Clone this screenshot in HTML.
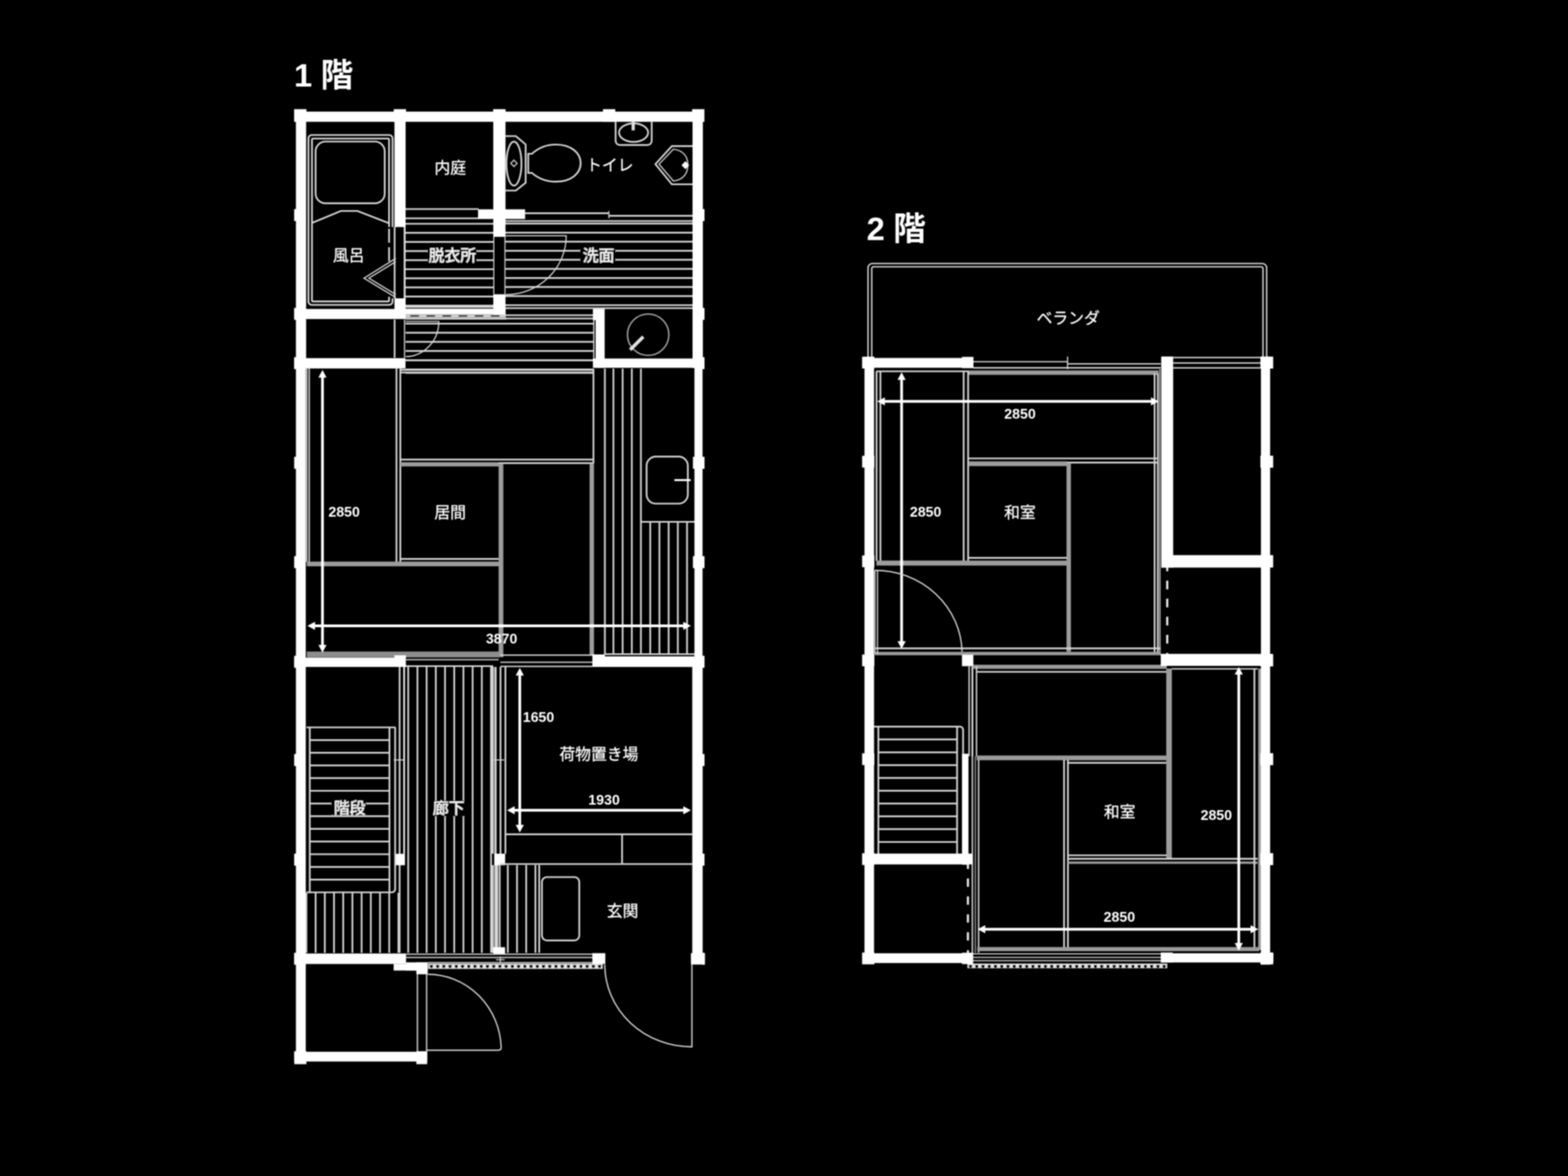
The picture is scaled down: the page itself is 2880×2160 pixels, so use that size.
<!DOCTYPE html>
<html><head><meta charset="utf-8"><title>間取り図</title>
<style>html,body{margin:0;padding:0;background:#000;}body{width:2880px;height:2160px;overflow:hidden;font-family:"Liberation Sans",sans-serif;}svg{display:block}</style>
</head><body>
<svg width="2880" height="2160" viewBox="0 0 2880 2160" fill="none" stroke-linecap="butt" role="img" aria-label="間取り図 1階・2階">
<title>間取り図</title>
<desc>1階: 風呂 内庭 トイレ 脱衣所 洗面 居間 2850 3870 階段 廊下 荷物置き場 1650 1930 玄関 / 2階: ベランダ 和室 2850 2850 和室 2850 2850</desc>
<defs><filter id="soft" x="0" y="0" width="2880" height="2160" filterUnits="userSpaceOnUse"><feGaussianBlur stdDeviation="1.2"/></filter></defs>
<rect width="2880" height="2160" fill="#000"/>
<g filter="url(#soft)">
<g id="f1">
<text y="158.8" font-family="'Liberation Sans','Noto Sans CJK JP',sans-serif" font-size="60" font-weight="bold" fill="#fff" stroke="none"><tspan x="540">1</tspan><tspan x="588.8">階</tspan></text>
<path d="M745 384H879M745 401H879" stroke="#d6d6d6" stroke-width="3.2" fill="none" />
<path d="M745 411H906M745 427.7H906M745 444.4H906M745 461.1H906M745 477.8H906M745 494.5H906M745 511.2H906M745 527.9H906M745 544.6H906M745 561.3H906M745 564H906" stroke="#d6d6d6" stroke-width="3.2" fill="none" />
<path d="M928 406H1273M928 410.7H1273" stroke="#d6d6d6" stroke-width="3.2" fill="none" />
<path d="M928 427.3H1273M928 443.9H1273M928 460.6H1273M928 477.2H1273M928 493.9H1273M928 510.6H1273M928 527.2H1273M928 543.9H1273M928 560.5H1273M928 566H1273" stroke="#d6d6d6" stroke-width="3.2" fill="none" />
<path d="M929 579H1090M929 585H1090" stroke="#d6d6d6" stroke-width="3.2" fill="none" />
<path d="M745 585.3H930" stroke="#d6d6d6" stroke-width="3.2" fill="none" />
<path d="M745 594.5H1090M745 611.2H1090M745 627.9H1090M745 644.6H1090" stroke="#d6d6d6" stroke-width="3.2" fill="none" />
<path d="M745 661.5H1090M745 678.5H1090M745 685H1090" stroke="#d6d6d6" stroke-width="3.2" fill="none" />
<path d="M1090.7 588L1090.7 659" stroke="#d6d6d6" stroke-width="2.4" />
<path d="M1126.7 677V1203M1143.6 677V1203M1160.5 677V1203" stroke="#d6d6d6" stroke-width="3.2" fill="none" />
<path d="M1194.3 958.5V1203M1211.2 958.5V1203M1228.1 958.5V1203M1245 958.5V1203M1261.9 958.5V1203" stroke="#d6d6d6" stroke-width="3.2" fill="none" />
<path d="M1111 677V1203M1177.2 677V1203" stroke="#d6d6d6" stroke-width="3.2" fill="none" />
<path d="M1177 958.5H1276" stroke="#d6d6d6" stroke-width="3.2" fill="none" />
<path d="M1111 1201.5H1276" stroke="#d6d6d6" stroke-width="3.2" fill="none" />
<path d="M749.8 1224V1750M766.7 1224V1750M783.6 1224V1750M800.5 1224V1750M817.4 1224V1750M834.3 1224V1750M851.2 1224V1750M868.1 1224V1750M885 1224V1750M901.9 1224V1750" stroke="#d6d6d6" stroke-width="3.2" fill="none" />
<path d="M745 1223.5H906" stroke="#d6d6d6" stroke-width="3.2" fill="none" />
<path d="M734 1225V1750" stroke="#d6d6d6" stroke-width="3.2" fill="none" />
<path d="M742.3 1225V1568" stroke="#eee" stroke-width="3.2" fill="none" />
<rect x="904.5" y="1225" width="6" height="343" fill="#777"/>
<path d="M904.5 1225V1568M910.5 1225V1568" stroke="#d6d6d6" stroke-width="3.2" fill="none" />
<path d="M919.3 1225V1568M928.3 1225V1568" stroke="#d6d6d6" stroke-width="3.2" fill="none" />
<path d="M562.8 1640V1750M579.7 1640V1750M596.6 1640V1750M613.5 1640V1750M630.4 1640V1750M647.3 1640V1750M664.2 1640V1750M681.1 1640V1750M698 1640V1750M714.9 1640V1750M731.8 1640V1750" stroke="#d6d6d6" stroke-width="3.2" fill="none" />
<path d="M932.7 1589V1750M949.6 1589V1750M966.5 1589V1750M983.4 1589V1750M990.4 1589V1750" stroke="#d6d6d6" stroke-width="3.2" fill="none" />
<path d="M917.8 1589V1740" stroke="#d6d6d6" stroke-width="3.2" fill="none" />
<rect x="907.8" y="1589" width="7.2" height="151" fill="#d8d8d8"/>
<rect x="904.5" y="1589" width="6" height="161" fill="#777"/>
<path d="M904.5 1589V1750M910.5 1589V1750" stroke="#d6d6d6" stroke-width="3.2" fill="none" />
<path d="M745 662.5H1090" stroke="#d6d6d6" stroke-width="2.2" fill="none" />
<path d="M735 679.3H1090M735 684.2H1090" stroke="#d6d6d6" stroke-width="3.2" fill="none" />
<path d="M563.3 677V1032M567.9 677V1032" stroke="#d6d6d6" stroke-width="2.6" fill="none" />
<path d="M728.2 677V1032.5M735.3 677V1032.5" stroke="#d6d6d6" stroke-width="3.2" fill="none" />
<path d="M735 844.2H1089.5" stroke="#d6d6d6" stroke-width="3.2" fill="none" />
<path d="M916 850.7H1089" stroke="#d6d6d6" stroke-width="3.2" fill="none" />
<rect x="735" y="849" width="181" height="7.7" fill="#9c9c9c"/>
<path d="M735 1026.6H917" stroke="#d6d6d6" stroke-width="3.2" fill="none" />
<rect x="563.5" y="1031.5" width="353.5" height="8.6" fill="#9c9c9c"/>
<rect x="915.8" y="851" width="8.7" height="356" fill="#9c9c9c"/>
<path d="M1090 677V851" stroke="#d6d6d6" stroke-width="3.2" fill="none" />
<rect x="1082.9" y="851" width="8.1" height="352" fill="#9c9c9c"/>
<rect x="563.5" y="1196.7" width="353.5" height="10.8" fill="#8e8e8e"/>
<rect x="543.5" y="201" width="18.8" height="475" fill="#fff"/>
<rect x="543.5" y="676" width="18.1" height="1278" fill="#fff"/>
<rect x="541" y="205" width="752" height="18.7" fill="#fff"/>
<rect x="1272" y="201" width="19" height="475" fill="#fff"/>
<rect x="1275.5" y="676" width="14.9" height="530" fill="#fff"/>
<rect x="1271.5" y="1206" width="19.1" height="565" fill="#fff"/>
<rect x="540.2" y="200.5" width="22.6" height="23.2" fill="#fff"/>
<rect x="723.2" y="200.5" width="22.6" height="23.2" fill="#fff"/>
<rect x="905.7" y="200.5" width="22.6" height="23.2" fill="#fff"/>
<rect x="1107.5" y="200.5" width="22.6" height="23.2" fill="#fff"/>
<rect x="1271.2" y="200.5" width="22.6" height="23.2" fill="#fff"/>
<rect x="724.5" y="201" width="20.5" height="216" fill="#fff"/>
<rect x="724.5" y="548" width="20.5" height="38" fill="#fff"/>
<rect x="906" y="201" width="22.5" height="234" fill="#fff"/>
<rect x="906" y="540.5" width="22.5" height="38" fill="#fff"/>
<rect x="878" y="384.5" width="86.5" height="17.8" fill="#fff"/>
<rect x="540.5" y="567.5" width="204.5" height="18.5" fill="#fff"/>
<rect x="745" y="567" width="183.5" height="10.5" fill="#fff"/>
<rect x="745" y="577.5" width="184" height="6.1" fill="#cfcfcf"/>
<rect x="540.5" y="657.8" width="204.3" height="19" fill="#fff"/>
<rect x="1089" y="658.5" width="205" height="17.1" fill="#fff"/>
<rect x="1094" y="567.3" width="16.6" height="108.3" fill="#fff"/>
<rect x="1089" y="567.3" width="6" height="20.7" fill="#fff"/>
<rect x="540.5" y="1208" width="204.5" height="17" fill="#fff"/>
<rect x="724.4" y="1203.7" width="21.1" height="21.3" fill="#fff"/>
<rect x="1088" y="1205.5" width="206" height="19.5" fill="#fff"/>
<rect x="1088" y="1202" width="23" height="23" fill="#fff"/>
<rect x="540.5" y="1751.3" width="205.3" height="19.3" fill="#fff"/>
<rect x="745.8" y="1767.6" width="39.8" height="15" fill="#fff"/>
<rect x="723" y="1770.6" width="43" height="12" fill="#fff"/>
<rect x="764.7" y="1767.6" width="20.9" height="21.9" fill="#fff"/>
<rect x="1088" y="1750.7" width="23.8" height="19.9" fill="#fff"/>
<rect x="1269" y="1750.7" width="25.8" height="20.9" fill="#fff"/>
<rect x="540.5" y="1931.8" width="244.1" height="17.9" fill="#fff"/>
<rect x="540.5" y="1930.8" width="22.3" height="23.8" fill="#fff"/>
<rect x="764.7" y="1930.8" width="19.9" height="23.8" fill="#fff"/>
<rect x="725.9" y="1568.2" width="17.9" height="21" fill="#fff"/>
<rect x="907.8" y="1568" width="20" height="21.2" fill="#fff"/>
<rect x="905.9" y="1739.8" width="21.8" height="12.2" fill="#fff"/>
<rect x="540.3" y="384" width="3.7" height="22" fill="#fff"/>
<rect x="1290" y="384" width="4" height="22" fill="#fff"/>
<rect x="540.3" y="565.5" width="3.7" height="22" fill="#fff"/>
<rect x="1290" y="565.5" width="4" height="22" fill="#fff"/>
<rect x="540.3" y="656" width="3.7" height="22" fill="#fff"/>
<rect x="1290" y="656" width="4" height="22" fill="#fff"/>
<rect x="540.3" y="839" width="3.7" height="22" fill="#fff"/>
<rect x="1290" y="839" width="4" height="22" fill="#fff"/>
<rect x="540.3" y="1021.5" width="3.7" height="22" fill="#fff"/>
<rect x="1290" y="1021.5" width="4" height="22" fill="#fff"/>
<rect x="540.3" y="1204.5" width="3.7" height="22" fill="#fff"/>
<rect x="1290" y="1204.5" width="4" height="22" fill="#fff"/>
<rect x="540.3" y="1385" width="3.7" height="22" fill="#fff"/>
<rect x="1290" y="1385" width="4" height="22" fill="#fff"/>
<rect x="540.3" y="1568" width="3.7" height="22" fill="#fff"/>
<rect x="1290" y="1568" width="4" height="22" fill="#fff"/>
<rect x="540.3" y="1750" width="3.7" height="22" fill="#fff"/>
<rect x="1290" y="1750" width="4" height="22" fill="#fff"/>
<rect x="1272.7" y="839" width="4.3" height="22" fill="#fff"/>
<rect x="1272.7" y="1021.5" width="4.3" height="22" fill="#fff"/>
<path d="M721 417V254a6 6 0 0 0 -6 -6H572.5a6 6 0 0 0 -6 6V554a6 6 0 0 0 6 6H715a6 6 0 0 0 6 -6V548" stroke="#d6d6d6" stroke-width="3.2" fill="none" />
<path d="M714.6 417V256.5a2 2 0 0 0 -2 -2H575a2 2 0 0 0 -2 2V551.7a2 2 0 0 0 2 2H712.6a2 2 0 0 0 2 -2V545" stroke="#d6d6d6" stroke-width="3.2" fill="none" />
<path d="M714.6 420L714.6 482" stroke="#d6d6d6" stroke-width="3.2" stroke-dasharray="26 8"/>
<rect x="579.7" y="260" width="126.9" height="113.4" rx="18" stroke="#d6d6d6" stroke-width="3.2"/>
<path d="M573 409.5L626 387.5H656.7L714.5 410" stroke="#d6d6d6" stroke-width="3.2" fill="none" />
<path d="M727 474.5L668.5 511L727 546.5M727 480.5L677.5 511L727 541" stroke="#d6d6d6" stroke-width="2.2" fill="none" />
<path d="M724.8 417L724.8 548" stroke="#d6d6d6" stroke-width="3.2" />
<rect x="741.5" y="417" width="3.5" height="131" fill="#e0e0e0"/>
<path d="M907 435V540.5M927.5 435V540.5" stroke="#d6d6d6" stroke-width="2" fill="none" />
<path d="M928.5 250H947.5L965.5 265.4V335.7L947.5 350H928.5" stroke="#d6d6d6" stroke-width="3.2" fill="none" />
<ellipse cx="944" cy="300.5" rx="13.8" ry="40.3" stroke="#d6d6d6" stroke-width="3.2"/>
<path d="M944 294l5.8 6l-5.8 6l-5.8 -6z" stroke="#d6d6d6" stroke-width="2" fill="none" />
<path d="M970.2 282.5H977C989 271.5 1004 265.5 1021 265.5C1048.5 265.5 1066.5 280.5 1066.5 299.6C1066.5 319 1048.5 333.7 1021 333.7C1004 333.7 989 328 977 317.6H970.2Z" stroke="#d6d6d6" stroke-width="3.2" fill="none" />
<path d="M1130.7 223.7V258.4a8 8 0 0 0 8 8H1189a8 8 0 0 0 8 -8V223.7" stroke="#d6d6d6" stroke-width="3.2" fill="none" />
<ellipse cx="1163.7" cy="243.6" rx="26.7" ry="17" stroke="#d6d6d6" stroke-width="3.2"/>
<rect x="1160" y="223.7" width="6" height="15.8" fill="#ddd"/>
<path d="M1272 268.3H1234L1203.8 301.5L1234 338.5H1272" stroke="#d6d6d6" stroke-width="3.2" fill="none" />
<path d="M1237 274L1210.5 301.5L1237 332.5C1256 330 1263 318 1263.5 303C1263 287 1256 277 1237 274Z" stroke="#d6d6d6" stroke-width="2.2" fill="none" />
<path d="M1258.8 296l7 7.4l-7 7.4l-7 -7.4z" fill="#fff"/>
<path d="M964.5 391.7H1118.3" stroke="#d6d6d6" stroke-width="3.2" fill="none" />
<path d="M1118.3 396.4H1272.5" stroke="#d6d6d6" stroke-width="3.2" fill="none" />
<path d="M1118.3 387.5L1118.3 401" stroke="#d6d6d6" stroke-width="2" />
<path d="M929 433H1040A110 108 0 0 1 929 541" stroke="#d6d6d6" stroke-width="2.2" fill="none" />
<path d="M753.5 580.3L930 580.3" stroke="#2a2a2a" stroke-width="3.2" stroke-dasharray="16 13.6"/>
<path d="M745 590.5H806A61 64.5 0 0 1 745 655" stroke="#d6d6d6" stroke-width="2.2" fill="none" />
<path d="M724.8 587L724.8 657" stroke="#d6d6d6" stroke-width="3.2" />
<path d="M743 587L743 657" stroke="#d6d6d6" stroke-width="2.2" />
<circle cx="1190.5" cy="614.8" r="38" stroke="#a8a8a8" stroke-width="2.6"/>
<path d="M1181.5 618.5L1157.4 642.5" stroke="#e4e4e4" stroke-width="6.2" />
<path d="M746 1211.6H916" stroke="#d6d6d6" stroke-width="2.2" fill="none" />
<path d="M919 1203.2H1088M919 1216.4H1088M919 1224H1088" stroke="#d6d6d6" stroke-width="2.4" fill="none" />
<rect x="1187.6" y="838.6" width="75.8" height="86.4" rx="17" stroke="#d6d6d6" stroke-width="3.2"/>
<rect x="1238.7" y="880" width="30" height="3.6" fill="#fff"/>
<rect x="589.8" y="692.5" width="5" height="493" fill="#fff"/>
<path d="M592.3 679.5L584.8 693.5H599.8Z M592.3 1198.5L584.8 1184.5H599.8Z" fill="#fff"/>
<rect x="577.6" y="1147" width="678.4" height="5" fill="#fff"/>
<path d="M564.6 1149.5L578.6 1142V1157Z M1269 1149.5L1255 1142V1157Z" fill="#fff"/>
<text x="603.2" y="949.1" font-family="'Liberation Sans',sans-serif" font-size="26" font-weight="bold" fill="#fff" stroke="none">2850</text>
<text x="892.4" y="1182.2" font-family="'Liberation Sans',sans-serif" font-size="26" font-weight="bold" fill="#fff" stroke="none">3870</text>
<path d="M569 1359.3H715.3M569 1382.6H715.3M569 1405.9H715.3M569 1429.2H715.3M569 1452.5H715.3M569 1475.8H715.3M569 1499.1H715.3M569 1522.4H715.3M569 1545.7H715.3M569 1569H715.3M569 1592.3H715.3M569 1615.6H715.3" stroke="#d6d6d6" stroke-width="3.2" fill="none" />
<path d="M563 1336H726.5M569 1336V1638.9M715.3 1336V1638.9M725.8 1336V1633a6 6 0 0 1 -6 6H563" stroke="#d6d6d6" stroke-width="3.2" fill="none" />
<path d="M723 1395.8H742" stroke="#d6d6d6" stroke-width="2" fill="none" />
<path d="M907 1395.8H926" stroke="#d6d6d6" stroke-width="2" fill="none" />
<rect x="952.2" y="1239.8" width="5" height="276.2" fill="#fff"/>
<path d="M954.7 1226.8L947.2 1240.8H962.2Z M954.7 1529L947.2 1515H962.2Z" fill="#fff"/>
<rect x="944.3" y="1485.7" width="311.7" height="5" fill="#fff"/>
<path d="M931.3 1488.2L945.3 1480.7V1495.7Z M1269 1488.2L1255 1480.7V1495.7Z" fill="#fff"/>
<path d="M928.7 1532.4H1273" stroke="#d6d6d6" stroke-width="3.2" fill="none" />
<path d="M917.8 1587H1273" stroke="#d6d6d6" stroke-width="3.2" fill="none" />
<path d="M1142.6 1532.4L1142.6 1587" stroke="#d6d6d6" stroke-width="3.2" />
<text x="960.2" y="1326.4" font-family="'Liberation Sans',sans-serif" font-size="26" font-weight="bold" fill="#fff" stroke="none">1650</text>
<text x="1080.5" y="1477.6" font-family="'Liberation Sans',sans-serif" font-size="26" font-weight="bold" fill="#fff" stroke="none">1930</text>
<rect x="995.4" y="1611" width="68.6" height="116.3" rx="9" stroke="#d6d6d6" stroke-width="3.2"/>
<path d="M745.8 1752.7H1088M745.8 1758.7H1088" stroke="#d6d6d6" stroke-width="2.2" fill="none" />
<path d="M786 1768H1088" stroke="#d6d6d6" stroke-width="2" fill="none" />
<path d="M911 1762.7H927M919 1757V1768" stroke="#d6d6d6" stroke-width="2" fill="none" />
<rect x="786.6" y="1769.8" width="320.4" height="9.8" fill="#e8e8e8"/>
<path d="M789.3 1772h6v3.2a3 3 0 0 1 -6 0zM800.8 1772h6v3.2a3 3 0 0 1 -6 0zM812.2 1772h6v3.2a3 3 0 0 1 -6 0zM823.6 1772h6v3.2a3 3 0 0 1 -6 0zM835.1 1772h6v3.2a3 3 0 0 1 -6 0zM846.5 1772h6v3.2a3 3 0 0 1 -6 0zM858 1772h6v3.2a3 3 0 0 1 -6 0zM869.4 1772h6v3.2a3 3 0 0 1 -6 0zM880.9 1772h6v3.2a3 3 0 0 1 -6 0zM892.3 1772h6v3.2a3 3 0 0 1 -6 0zM903.8 1772h6v3.2a3 3 0 0 1 -6 0zM915.2 1772h6v3.2a3 3 0 0 1 -6 0zM926.6 1772h6v3.2a3 3 0 0 1 -6 0zM938.1 1772h6v3.2a3 3 0 0 1 -6 0zM949.5 1772h6v3.2a3 3 0 0 1 -6 0zM961 1772h6v3.2a3 3 0 0 1 -6 0zM972.4 1772h6v3.2a3 3 0 0 1 -6 0zM983.9 1772h6v3.2a3 3 0 0 1 -6 0zM995.3 1772h6v3.2a3 3 0 0 1 -6 0zM1006.7 1772h6v3.2a3 3 0 0 1 -6 0zM1018.2 1772h6v3.2a3 3 0 0 1 -6 0zM1029.6 1772h6v3.2a3 3 0 0 1 -6 0zM1041.1 1772h6v3.2a3 3 0 0 1 -6 0zM1052.5 1772h6v3.2a3 3 0 0 1 -6 0zM1064 1772h6v3.2a3 3 0 0 1 -6 0zM1075.4 1772h6v3.2a3 3 0 0 1 -6 0zM1086.8 1772h6v3.2a3 3 0 0 1 -6 0zM1098.3 1772h6v3.2a3 3 0 0 1 -6 0z" fill="#000"/>
<path d="M1270.9 1771.6V1922.8A160 151 0 0 1 1110.8 1771.6" stroke="#d6d6d6" stroke-width="2.4" fill="none" />
<path d="M766.7 1789.5V1931M783.6 1789.5V1931" stroke="#d6d6d6" stroke-width="2.4" fill="none" />
<path d="M785.6 1789.5A135 139 0 0 1 920.5 1924q0 5 -6 5H784.6" stroke="#d6d6d6" stroke-width="2.4" fill="none" />
<text x="798" y="319.2" font-family="'Liberation Sans','Noto Sans CJK JP',sans-serif" font-size="29" fill="#fff" stroke="#fff" stroke-width="0.5">内庭</text>
<text x="1076.5" y="314.2" font-family="'Liberation Sans','Noto Sans CJK JP',sans-serif" font-size="29" fill="#fff" stroke="#fff" stroke-width="0.5">トイレ</text>
<text x="611.5" y="479.7" font-family="'Liberation Sans','Noto Sans CJK JP',sans-serif" font-size="29" fill="#fff" stroke="#fff" stroke-width="0.5">風呂</text>
<rect x="785" y="452.5" width="90.5" height="33.5" fill="#000"/>
<text x="787.5" y="479.7" font-family="'Liberation Sans','Noto Sans CJK JP',sans-serif" font-size="29" fill="#fff" stroke="#fff" stroke-width="0.5">脱衣所</text>
<rect x="1065" y="452.5" width="66" height="33" fill="#000"/>
<text x="1070.4" y="479.7" font-family="'Liberation Sans','Noto Sans CJK JP',sans-serif" font-size="29" fill="#fff" stroke="#fff" stroke-width="0.5">洗面</text>
<text x="797.7" y="951.7" font-family="'Liberation Sans','Noto Sans CJK JP',sans-serif" font-size="29" fill="#fff" stroke="#fff" stroke-width="0.5">居間</text>
<text x="1027.5" y="1395.7" font-family="'Liberation Sans','Noto Sans CJK JP',sans-serif" font-size="29" fill="#fff" stroke="#fff" stroke-width="0.5">荷物置き場</text>
<rect x="608" y="1464" width="65" height="32.5" fill="#000"/>
<text x="613.3" y="1494.7" font-family="'Liberation Sans','Noto Sans CJK JP',sans-serif" font-size="29" fill="#fff" stroke="#fff" stroke-width="0.5">階段</text>
<rect x="792.5" y="1470.5" width="65" height="29" fill="#000"/>
<text x="795" y="1495.3" font-family="'Liberation Sans','Noto Sans CJK JP',sans-serif" font-size="29" fill="#fff" stroke="#fff" stroke-width="0.5">廊下</text>
<text x="1114.5" y="1683.7" font-family="'Liberation Sans','Noto Sans CJK JP',sans-serif" font-size="29" fill="#fff" stroke="#fff" stroke-width="0.5">玄関</text>
</g>
<g id="f2">
<text y="441.4" font-family="'Liberation Sans','Noto Sans CJK JP',sans-serif" font-size="60" font-weight="bold" fill="#fff" stroke="none"><tspan x="1591.7">2</tspan><tspan x="1640.5">階</tspan></text>
<path d="M1594.3 657V492a8 8 0 0 1 8 -8H2318.5a8 8 0 0 1 8 8V657" stroke="#d6d6d6" stroke-width="2.6" fill="none" />
<path d="M1601.2 657V493a3 3 0 0 1 3 -3H2316.8a3 3 0 0 1 3 3V657" stroke="#d6d6d6" stroke-width="2.6" fill="none" />
<text x="1904" y="594.7" font-family="'Liberation Sans','Noto Sans CJK JP',sans-serif" font-size="29" fill="#fff" stroke="#fff" stroke-width="0.5">ベランダ</text>
<path d="M1787.8 664.4H1960.8" stroke="#d6d6d6" stroke-width="2.4" fill="none" />
<path d="M1960.8 668.2H2132" stroke="#d6d6d6" stroke-width="2.4" fill="none" />
<path d="M1960.8 655L1960.8 678" stroke="#d6d6d6" stroke-width="2.2" />
<path d="M1787.8 675.6H2132" stroke="#d6d6d6" stroke-width="2.8" fill="none" />
<path d="M2154.8 656.8H2316M2154.8 666.8H2316M2154.8 675.7H2316" stroke="#d6d6d6" stroke-width="2.6" fill="none" />
<path d="M1610 682H1779" stroke="#d6d6d6" stroke-width="3.2" fill="none" />
<rect x="1779" y="680.4" width="349" height="8.1" fill="#9c9c9c"/>
<path d="M1610 682V1030M1617.1 682V1030" stroke="#d6d6d6" stroke-width="3.2" fill="none" />
<path d="M1770 682V1030M1778.2 682V1030" stroke="#d6d6d6" stroke-width="3.2" fill="none" />
<path d="M1779 842H2126" stroke="#d6d6d6" stroke-width="3.2" fill="none" />
<rect x="1779" y="847.4" width="181" height="8.7" fill="#9c9c9c"/>
<path d="M1960 849.6H2126" stroke="#d6d6d6" stroke-width="3.2" fill="none" />
<rect x="1958.9" y="850" width="8.1" height="347" fill="#9c9c9c"/>
<rect x="1609.7" y="1029.6" width="350.3" height="9.2" fill="#9c9c9c"/>
<path d="M1779 1024.6H1959.8" stroke="#d6d6d6" stroke-width="3.2" fill="none" />
<path d="M2120.7 686V1198M2126.7 686V1198" stroke="#d6d6d6" stroke-width="3.2" fill="none" />
<path d="M2130.5 678V1200" stroke="#d6d6d6" stroke-width="2" fill="none" />
<path d="M1606.7 1190.8H2132" stroke="#d6d6d6" stroke-width="3.2" fill="none" />
<rect x="1606.7" y="1197.3" width="525.3" height="6.2" fill="#9c9c9c"/>
<rect x="1653.5" y="696.8" width="5" height="481.9" fill="#fff"/>
<path d="M1656 683.8L1648.5 697.8H1663.5Z M1656 1191.7L1648.5 1177.7H1663.5Z" fill="#fff"/>
<rect x="1624.3" y="734.7" width="490.7" height="5" fill="#fff"/>
<path d="M1611.3 737.2L1625.3 729.7V744.7Z M2128 737.2L2114 729.7V744.7Z" fill="#fff"/>
<text x="1844.5" y="769.2" font-family="'Liberation Sans',sans-serif" font-size="26" font-weight="bold" fill="#fff" stroke="none">2850</text>
<text x="1671.2" y="949.2" font-family="'Liberation Sans',sans-serif" font-size="26" font-weight="bold" fill="#fff" stroke="none">2850</text>
<text x="1844.3" y="952.2" font-family="'Liberation Sans','Noto Sans CJK JP',sans-serif" font-size="29" fill="#fff" stroke="#fff" stroke-width="0.5">和室</text>
<path d="M1607 1047.5V1201M1611.7 1047.5V1201" stroke="#d6d6d6" stroke-width="2.2" fill="none" />
<path d="M1607 1047.5A160 153 0 0 1 1767 1197" stroke="#d6d6d6" stroke-width="2.4" fill="none" />
<path d="M2143.9 1033.2L2143.9 1201" stroke="#e8e8e8" stroke-width="4" stroke-dasharray="16 17.2"/>
<rect x="1788" y="1221" width="355" height="7.5" fill="#9c9c9c"/>
<path d="M1793.6 1234H2143" stroke="#d6d6d6" stroke-width="3.2" fill="none" />
<path d="M2152 1228.5H2310" stroke="#d6d6d6" stroke-width="2.6" fill="none" />
<path d="M1780 1224V1389M1793.6 1224V1389" stroke="#d6d6d6" stroke-width="2.6" fill="none" />
<path d="M1786 1224V1389" stroke="#f0f0f0" stroke-width="3" fill="none" />
<path d="M1786 1389V1750M1797.5 1389V1750" stroke="#d6d6d6" stroke-width="2.6" fill="none" />
<path d="M1791.5 1389V1750" stroke="#999" stroke-width="2.2" fill="none" />
<rect x="1794" y="1387.7" width="348" height="8.6" fill="#9c9c9c"/>
<path d="M1961.5 1401.2H2142" stroke="#d6d6d6" stroke-width="3.2" fill="none" />
<path d="M1954.4 1396V1745M1961.5 1396V1745" stroke="#d6d6d6" stroke-width="3.2" fill="none" />
<rect x="2142.1" y="1228" width="10.3" height="348" fill="#9c9c9c"/>
<path d="M1961 1571H2143" stroke="#d6d6d6" stroke-width="3.2" fill="none" />
<path d="M1961 1577.4H2310" stroke="#d6d6d6" stroke-width="3.2" fill="none" />
<rect x="1961" y="1582.3" width="349" height="4.4" fill="#9c9c9c"/>
<path d="M2304 1228V1745" stroke="#d6d6d6" stroke-width="3.2" fill="none" />
<rect x="2311" y="1228" width="5" height="517" fill="#9c9c9c"/>
<rect x="1795" y="1739.5" width="518" height="7.5" fill="#9c9c9c"/>
<rect x="2272.8" y="1238" width="5" height="494.9" fill="#fff"/>
<path d="M2275.3 1225L2267.8 1239H2282.8Z M2275.3 1745.9L2267.8 1731.9H2282.8Z" fill="#fff"/>
<rect x="1808.7" y="1704.3" width="489.3" height="5" fill="#fff"/>
<path d="M1795.7 1706.8L1809.7 1699.3V1714.3Z M2311 1706.8L2297 1699.3V1714.3Z" fill="#fff"/>
<text x="2027.4" y="1502.3" font-family="'Liberation Sans','Noto Sans CJK JP',sans-serif" font-size="29" fill="#fff" stroke="#fff" stroke-width="0.5">和室</text>
<text x="2205.2" y="1505.8" font-family="'Liberation Sans',sans-serif" font-size="26" font-weight="bold" fill="#fff" stroke="none">2850</text>
<text x="2027.1" y="1693" font-family="'Liberation Sans',sans-serif" font-size="26" font-weight="bold" fill="#fff" stroke="none">2850</text>
<path d="M1786.8 1752H2132M1786.8 1758.5H2132M1786.8 1764.5H2132" stroke="#d6d6d6" stroke-width="2.2" fill="none" />
<rect x="1776.8" y="1769.8" width="367.2" height="8.6" fill="#e8e8e8"/>
<path d="M1779.5 1772h6v3.2a3 3 0 0 1 -6 0zM1791 1772h6v3.2a3 3 0 0 1 -6 0zM1802.5 1772h6v3.2a3 3 0 0 1 -6 0zM1814 1772h6v3.2a3 3 0 0 1 -6 0zM1825.4 1772h6v3.2a3 3 0 0 1 -6 0zM1836.9 1772h6v3.2a3 3 0 0 1 -6 0zM1848.4 1772h6v3.2a3 3 0 0 1 -6 0zM1859.9 1772h6v3.2a3 3 0 0 1 -6 0zM1871.3 1772h6v3.2a3 3 0 0 1 -6 0zM1882.8 1772h6v3.2a3 3 0 0 1 -6 0zM1894.3 1772h6v3.2a3 3 0 0 1 -6 0zM1905.8 1772h6v3.2a3 3 0 0 1 -6 0zM1917.2 1772h6v3.2a3 3 0 0 1 -6 0zM1928.7 1772h6v3.2a3 3 0 0 1 -6 0zM1940.2 1772h6v3.2a3 3 0 0 1 -6 0zM1951.7 1772h6v3.2a3 3 0 0 1 -6 0zM1963.1 1772h6v3.2a3 3 0 0 1 -6 0zM1974.6 1772h6v3.2a3 3 0 0 1 -6 0zM1986.1 1772h6v3.2a3 3 0 0 1 -6 0zM1997.6 1772h6v3.2a3 3 0 0 1 -6 0zM2009 1772h6v3.2a3 3 0 0 1 -6 0zM2020.5 1772h6v3.2a3 3 0 0 1 -6 0zM2032 1772h6v3.2a3 3 0 0 1 -6 0zM2043.5 1772h6v3.2a3 3 0 0 1 -6 0zM2054.9 1772h6v3.2a3 3 0 0 1 -6 0zM2066.4 1772h6v3.2a3 3 0 0 1 -6 0zM2077.9 1772h6v3.2a3 3 0 0 1 -6 0zM2089.4 1772h6v3.2a3 3 0 0 1 -6 0zM2100.8 1772h6v3.2a3 3 0 0 1 -6 0zM2112.3 1772h6v3.2a3 3 0 0 1 -6 0zM2123.8 1772h6v3.2a3 3 0 0 1 -6 0zM2135.3 1772h6v3.2a3 3 0 0 1 -6 0z" fill="#000"/>
<path d="M1613.3 1358.2H1757.9M1613.3 1381.8H1757.9M1613.3 1405.3H1757.9M1613.3 1428.8H1757.9M1613.3 1452.4H1757.9M1613.3 1475.9H1757.9M1613.3 1499.4H1757.9M1613.3 1522.9H1757.9M1613.3 1546.5H1757.9" stroke="#d6d6d6" stroke-width="3.2" fill="none" />
<path d="M1605.4 1334.7H1763a6 6 0 0 1 6 6V1384.4M1613.3 1334.7V1568M1757.9 1334.7V1568" stroke="#d6d6d6" stroke-width="3.2" fill="none" />
<path d="M1777.8 1580.7L1777.8 1751" stroke="#e8e8e8" stroke-width="4" stroke-dasharray="15.2 17.7"/>
<rect x="1587.8" y="655.5" width="17.6" height="1115.3" fill="#fff"/>
<rect x="1583.9" y="657.5" width="203.9" height="18" fill="#fff"/>
<rect x="2133" y="654.8" width="21.8" height="387.7" fill="#fff"/>
<rect x="2133" y="1019.6" width="204.9" height="22.9" fill="#fff"/>
<rect x="2316" y="654.8" width="16.9" height="1116.9" fill="#fff"/>
<rect x="2132" y="1201" width="205.9" height="22" fill="#fff"/>
<rect x="1766.9" y="1202.7" width="20.9" height="20.9" fill="#fff"/>
<rect x="1766.9" y="1384.4" width="11.9" height="203.9" fill="#fff"/>
<rect x="1583.9" y="1567.8" width="201.9" height="19.9" fill="#fff"/>
<rect x="1583.9" y="1750.9" width="202.9" height="17.9" fill="#fff"/>
<rect x="2132" y="1750.9" width="206.9" height="16.9" fill="#fff"/>
<rect x="1583.5" y="655.2" width="22.5" height="21.6" fill="#fff"/>
<rect x="2315" y="655" width="23.5" height="22" fill="#fff"/>
<rect x="1583.5" y="837.2" width="22.5" height="21.6" fill="#fff"/>
<rect x="2315" y="837" width="23.5" height="22" fill="#fff"/>
<rect x="1583.5" y="1020.2" width="22.5" height="21.6" fill="#fff"/>
<rect x="2315" y="1020" width="23.5" height="22" fill="#fff"/>
<rect x="1583.5" y="1202.2" width="22.5" height="21.6" fill="#fff"/>
<rect x="2315" y="1202" width="23.5" height="22" fill="#fff"/>
<rect x="1583.5" y="1383.6" width="22.5" height="21.6" fill="#fff"/>
<rect x="2315" y="1383.4" width="23.5" height="22" fill="#fff"/>
<rect x="1583.5" y="1567.2" width="22.5" height="21.6" fill="#fff"/>
<rect x="2315" y="1567" width="23.5" height="22" fill="#fff"/>
<rect x="1583.5" y="1749.6" width="22.5" height="21.6" fill="#fff"/>
<rect x="2315" y="1749.4" width="23.5" height="22" fill="#fff"/>
<rect x="1766.8" y="655.5" width="21.2" height="20.8" fill="#fff"/>
<rect x="2132.8" y="655.5" width="21.2" height="20.8" fill="#fff"/>
<rect x="1766.9" y="1749.9" width="20.6" height="20.9" fill="#fff"/>
<rect x="2132" y="1749.5" width="22" height="18.5" fill="#fff"/>
</g>
</g>
</svg>
</body></html>
